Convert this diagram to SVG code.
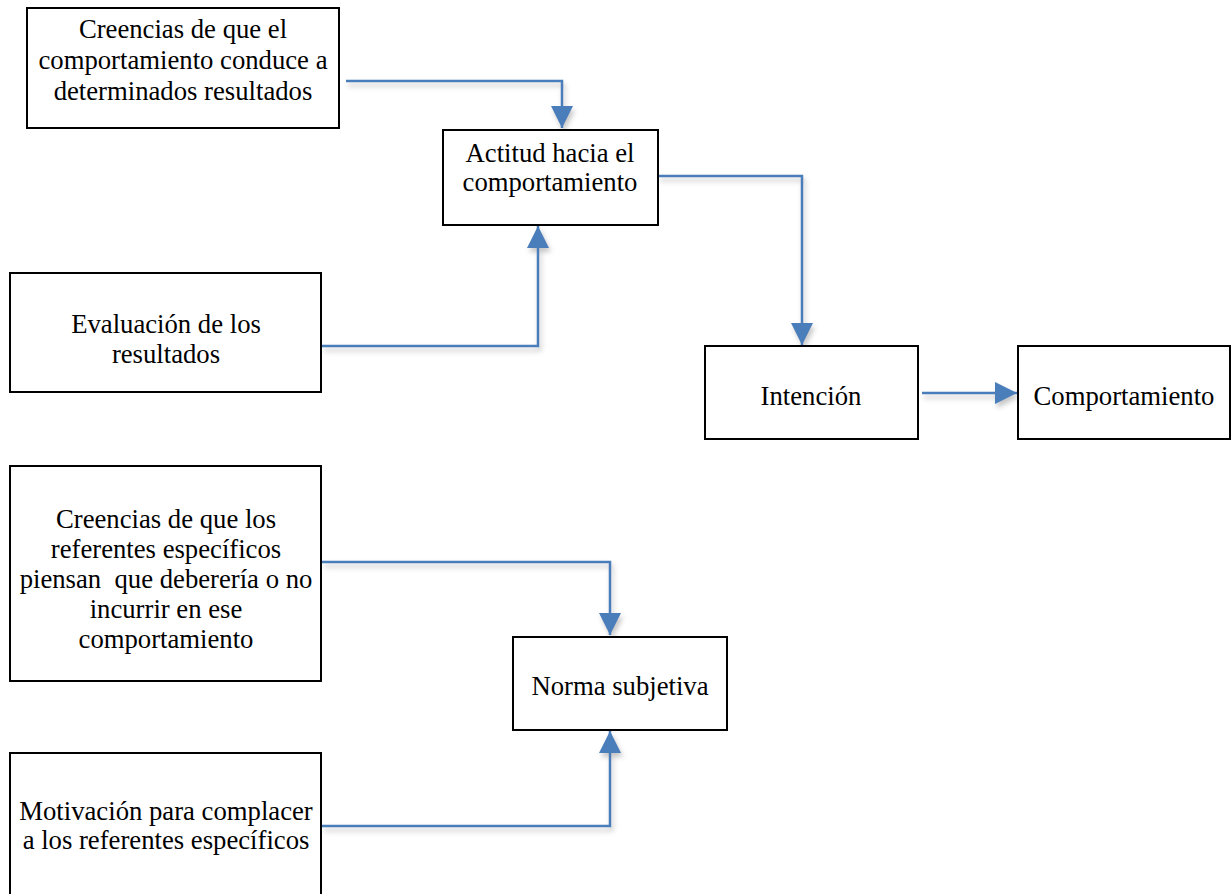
<svg xmlns="http://www.w3.org/2000/svg" width="1231" height="894" viewBox="0 0 1231 894">
<style>
.box{fill:#fff;stroke:#000;stroke-width:2}
.lbl{font-family:"Liberation Serif","Times New Roman",serif;font-size:26.7px;fill:#000;text-anchor:middle}
.con{fill:none;stroke:#4a7ebb;stroke-width:2.5;marker-end:url(#arr);filter:url(#sh)}
</style>
<defs>
<marker id="arr" markerUnits="userSpaceOnUse" markerWidth="22" markerHeight="22" refX="22" refY="11" orient="auto">
<path d="M0,0 L22,11 L0,22 z" fill="#4a7ebb"/>
</marker>
<filter id="sh" filterUnits="userSpaceOnUse" x="0" y="0" width="1231" height="894">
<feDropShadow dx="2" dy="4" stdDeviation="2.5" flood-color="#808080" flood-opacity="0.45"/>
</filter>
</defs>
<rect width="1231" height="894" fill="#fff"/>
<g id="connectors">
<path class="con" d="M346,81 H562 V128"/>
<path class="con" d="M322,346 H538 V226"/>
<path class="con" d="M658,176 H802 V345"/>
<path class="con" d="M922,393 H1017"/>
<path class="con" d="M322,562 H610 V635"/>
<path class="con" d="M322,826 H610 V731"/>
</g>
<g id="n-creencias">
<rect class="box" x="27" y="8" width="312" height="120"/>
<text class="lbl" x="183" y="38">Creencias de que el</text>
<text class="lbl" x="183" y="69">comportamiento conduce a</text>
<text class="lbl" x="183" y="100">determinados resultados</text>
</g>
<g id="n-actitud">
<rect class="box" x="443" y="130" width="215" height="95"/>
<text class="lbl" x="550" y="162">Actitud hacia el</text>
<text class="lbl" x="550" y="191">comportamiento</text>
</g>
<g id="n-evaluacion">
<rect class="box" x="10" y="273" width="311" height="119"/>
<text class="lbl" x="166" y="333">Evaluación de los</text>
<text class="lbl" x="166" y="363">resultados</text>
</g>
<g id="n-intencion">
<rect class="box" x="705" y="346" width="213" height="93"/>
<text class="lbl" x="811" y="405">Intención</text>
</g>
<g id="n-comportamiento">
<rect class="box" x="1018" y="346" width="212" height="93"/>
<text class="lbl" x="1124" y="405">Comportamiento</text>
</g>
<g id="n-referentes">
<rect class="box" x="10" y="466" width="311" height="215"/>
<text class="lbl" x="166" y="528">Creencias de que los</text>
<text class="lbl" x="166" y="558">referentes específicos</text>
<text class="lbl" x="166" y="588" xml:space="preserve">piensan  que deberería o no</text>
<text class="lbl" x="166" y="618">incurrir en ese</text>
<text class="lbl" x="166" y="648">comportamiento</text>
</g>
<g id="n-norma">
<rect class="box" x="513" y="637" width="214" height="93"/>
<text class="lbl" x="620" y="695">Norma subjetiva</text>
</g>
<g id="n-motivacion">
<rect class="box" x="10" y="753" width="311" height="150"/>
<text class="lbl" x="166" y="820">Motivación para complacer</text>
<text class="lbl" x="166" y="849">a los referentes específicos</text>
</g>
</svg>
